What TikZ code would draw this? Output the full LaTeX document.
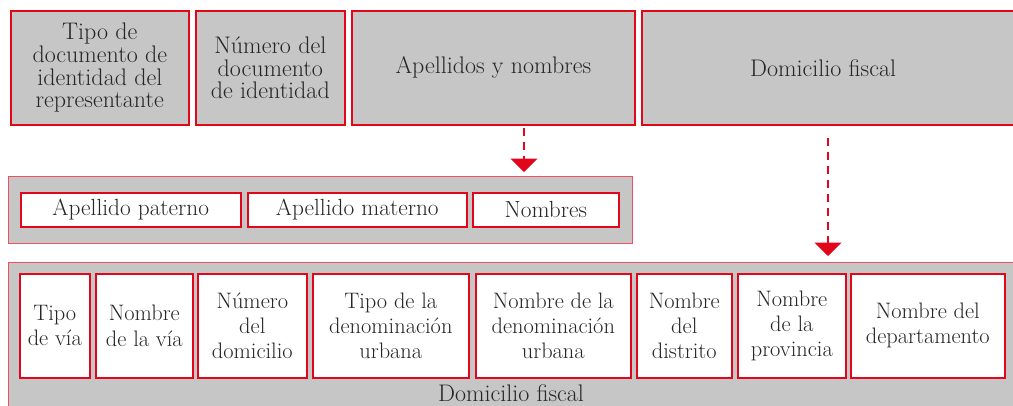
\documentclass[tikz,border=0pt]{standalone}
\usepackage{fontspec}
\usetikzlibrary{arrows.meta}

\definecolor{rojo}{HTML}{E2061B}
\definecolor{gris}{HTML}{C6C6C6}
\definecolor{texto}{HTML}{262626}

\tikzset{
  wh/.style 2 args={minimum width=#1*0.75pt, minimum height=#2*0.75pt},
  cajaGris/.style={draw=rojo, fill=gris, line width=1.2pt, inner sep=0pt,
    anchor=north west, align=center, text=texto,
    font=\fontsize{18}{17}\selectfont},
  panel/.style={draw=rojo!70, fill=gris, line width=0.9pt, inner sep=0pt,
    anchor=north west},
  cajaBlanca/.style={draw=rojo, fill=white, line width=1.2pt, inner sep=0pt,
    anchor=north west, align=center, text=texto},
  flujo/.style={draw=rojo, line width=1.6pt, dash pattern=on 6pt off 4.5pt,
    -{Triangle[width=20pt,length=10pt]}}
}

\begin{document}
\begin{tikzpicture}[x=0.75pt, y=-0.75pt]
  \clip (0,0) rectangle (1013,405);
  \fill[white] (0,0) rectangle (1013,405);

  % fila superior
  \node[cajaGris, wh={178}{114}] (tipoDoc) at (10,10)
    {Tipo de\\documento de\\identidad del\\representante};
  \node[cajaGris, wh={149}{114}] (numDoc) at (195,10)
    {Número del\\documento\\de identidad};
  \node[cajaGris, wh={283}{114}] (apellidos) at (351,10) {Apellidos y nombres};
  \node[cajaGris, wh={400}{114}] (domicilio) at (641,10) {\hspace*{-28pt}Domicilio fiscal};

  % apellidos y nombres
  \node[panel, wh={624}{67}] (panelApe) at (8,176) {};
  \node[cajaBlanca, wh={220}{34}, font=\fontsize{17.5}{17}\selectfont] (apPat) at (20,192) {Apellido paterno};
  \node[cajaBlanca, wh={219}{34}, font=\fontsize{17.5}{17}\selectfont] (apMat) at (247,192) {Apellido materno};
  \node[cajaBlanca, wh={146}{34}, font=\fontsize{17.5}{17}\selectfont] (nombres) at (472,192) {Nombres};

  % domicilio fiscal
  \node[panel, wh={1020}{160}] (panelDom) at (8,262) {};
  \foreach \x/\w/\n/\t in {19/70/tipoVia/{Tipo\\de vía},
      95/97/nomVia/{Nombre\\de la vía},
      197/109/numDom/{Número\\del\\domicilio},
      312/156/tipoDen/{Tipo de la\\denominación\\urbana},
      475/155/nomDen/{Nombre de la\\denominación\\urbana},
      636/95/distrito/{Nombre\\del\\distrito},
      737/108/provincia/{Nombre\\de la\\provincia},
      850/154/depto/{Nombre del\\departamento}} {
    \node[cajaBlanca, wh={\w}{104}, font=\fontsize{16.8}{18.8}\selectfont] (\n) at (\x,273) {\t};
  }
  \node[text=texto, font=\fontsize{18}{17}\selectfont] (lblDom) at (511,393) {Domicilio fiscal};

  % flechas
  \coordinate (f1) at (524,0);
  \coordinate (f2) at (828,0);
  \draw[flujo, shorten <=1.5pt, shorten >=3pt] (apellidos.south -| f1) -- (panelApe.north -| f1);
  \draw[flujo, shorten <=9pt, shorten >=4.5pt] (domicilio.south -| f2) -- (panelDom.north -| f2);
\end{tikzpicture}
\end{document}
